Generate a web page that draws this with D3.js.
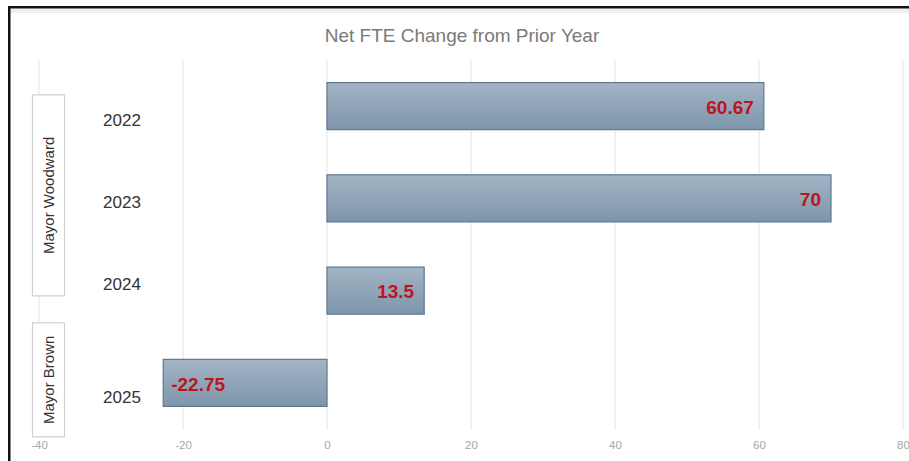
<!DOCTYPE html>
<html><head><meta charset="utf-8">
<script src="https://cdn.jsdelivr.net/npm/d3@7"></script>
<style>body{margin:0;background:#fff}svg{display:block}</style>
</head><body>
<script>
const years = ["2022","2023","2024","2025"];
const values = [60.67, 70, 13.5, -22.75];
const valueLabels = ["60.67","70","13.5","-22.75"];
const groups = ["Mayor Woodward","Mayor Brown"];
const groupYears = [["2022","2023","2024"],["2025"]];
const xTicks = [-40,-20,0,20,40,60,80];
const title = "Net FTE Change from Prior Year";

const W=909,H=461;
const svg=d3.select("body").append("svg").attr("width",W).attr("height",H);
const defs=svg.append("defs");
const g=defs.append("linearGradient").attr("id","barg").attr("x1",0).attr("x2",0).attr("y1",0).attr("y2",1);
g.append("stop").attr("offset","0%").attr("stop-color","#a3b4c5");
g.append("stop").attr("offset","100%").attr("stop-color","#7d95ab");

// frame
svg.append("rect").attr("x",10).attr("y",9).attr("width",W-10).attr("height",4).attr("fill","#efefef");
svg.append("rect").attr("x",8).attr("y",6).attr("width",W-8).attr("height",2.5).attr("fill","#111");
svg.append("rect").attr("x",8).attr("y",6).attr("width",2.5).attr("height",H-6).attr("fill","#111");

const x=d3.scaleLinear().domain([-40,80]).range([39,903]);
const y=d3.scaleBand().domain(years).range([60,429]).paddingInner(0.49).paddingOuter(0.245);

// gridlines
svg.append("g").selectAll("line").data(xTicks).join("line")
  .attr("x1",d=>x(d)).attr("x2",d=>x(d)).attr("y1",60).attr("y2",430)
  .attr("stroke","#e3e3e3").attr("stroke-width",1);

// x axis labels
const xa=svg.append("g").attr("transform","translate(0,430)")
  .call(d3.axisBottom(x).tickValues(xTicks).tickFormat(d=>String(d)).tickSize(0).tickPadding(11));
xa.select(".domain").remove();
xa.selectAll("text").attr("font-family","Liberation Sans, sans-serif")
  .attr("font-size",11.5).attr("fill","#a6a6a6");

// title
svg.append("text").attr("x",462).attr("y",42).attr("text-anchor","middle")
  .attr("font-family","Liberation Sans, sans-serif")
  .attr("font-size",19).attr("fill","#7a7a7a").text(title);

// bars
svg.append("g").selectAll("rect").data(years).join("rect")
  .attr("x",(d,i)=>x(Math.min(0,values[i])))
  .attr("y",d=>y(d))
  .attr("width",(d,i)=>Math.abs(x(values[i])-x(0)))
  .attr("height",y.bandwidth())
  .attr("fill","url(#barg)").attr("stroke","#5f7890").attr("stroke-width",1.2);

// value labels
svg.append("g").selectAll("text").data(years).join("text")
  .attr("x",(d,i)=>values[i]>=0? x(values[i])-10 : x(values[i])+8)
  .attr("y",d=>y(d)+y.bandwidth()/2+1)
  .attr("dy","0.35em")
  .attr("text-anchor",(d,i)=>values[i]>=0?"end":"start")
  .attr("font-family","Liberation Sans, Arial, sans-serif").attr("font-weight","bold")
  .attr("font-size",19).attr("fill","#c0141c")
  .text((d,i)=>valueLabels[i]);

// year labels
svg.append("g").selectAll("text").data(years).join("text")
  .attr("x",122).attr("y",(d,i)=>y(d)+y.bandwidth()/2+[14,4,-7,14][i])
  .attr("dy","0.35em").attr("text-anchor","middle")
  .attr("font-family","Liberation Sans, Arial, sans-serif")
  .attr("font-size",17).attr("fill","#333").text(d=>d);

// group boxes
const boxH=[201,114];
groups.forEach((name,gi)=>{
  const ys=groupYears[gi].map(d=>y(d)+y.bandwidth()/2);
  const cy=d3.mean(ys)-3;
  const h=boxH[gi];
  svg.append("rect").attr("x",32.5).attr("y",cy-h/2).attr("width",32).attr("height",h)
    .attr("fill","#fff").attr("stroke","#cfcfcf").attr("stroke-width",1.2);
  svg.append("text").attr("transform",`translate(54,${cy}) rotate(-90)`)
    .attr("text-anchor","middle").attr("font-family","Liberation Sans, Arial, sans-serif")
    .attr("font-size",15).attr("fill","#333").text(name);
});
</script>
</body></html>
